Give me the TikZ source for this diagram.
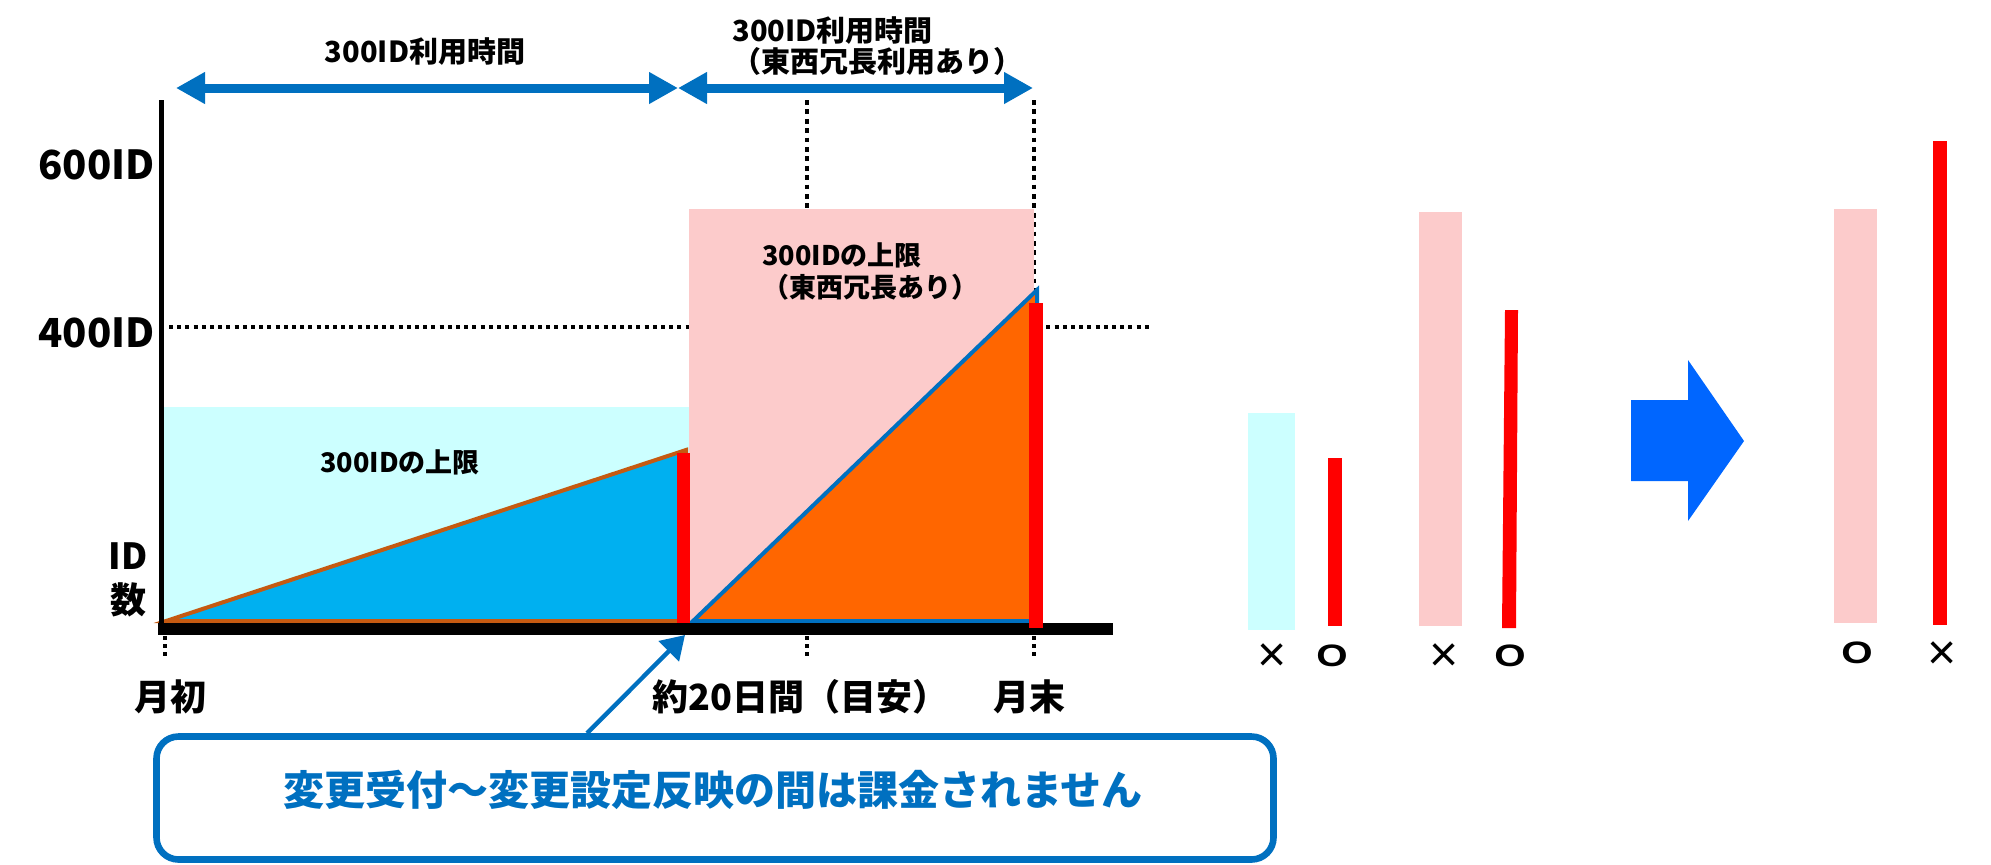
\documentclass[tikz,border=0pt]{standalone}
\usepackage{fontspec}
\setmainfont{Noto Sans CJK JP}
\newfontfamily\latfont{Liberation Sans}
\usetikzlibrary{arrows.meta}
\definecolor{cyanc}{HTML}{CCFFFF}
\definecolor{pinkc}{HTML}{FCCBCB}
\definecolor{tribl}{HTML}{00B0F0}
\definecolor{brownc}{HTML}{C55A11}
\definecolor{orng}{HTML}{FF6600}
\definecolor{arrblue}{HTML}{0070C0}
\definecolor{bigblue}{HTML}{0066FF}
\definecolor{redc}{HTML}{FF0000}
\begin{document}
\begin{tikzpicture}[x=0.5pt,y=-0.5pt,
  lbl/.style={font=\bfseries\fontsize{18}{21}\selectfont, inner sep=0pt},
  axlbl/.style={font=\bfseries\fontsize{20}{24}\selectfont, inner sep=0pt},
  toplbl/.style={font=\bfseries\fontsize{14.5}{15.5}\selectfont, inner sep=0pt, align=left},
  boxlbl/.style={font=\bfseries\fontsize{13.5}{16}\selectfont, inner sep=0pt, align=left},
  okmark/.style={font=\latfont\bfseries\fontsize{15.5}{18}\selectfont, inner sep=0pt},
  ngmark/.style={font=\latfont\fontsize{25}{28}\selectfont, inner sep=0pt},
  hdot/.style={line width=2.2pt, dash pattern=on 2pt off 2.1pt},
  vdot/.style={line width=2.4pt, dash pattern=on 2.4pt off 2.3pt},
  tickdot/.style={line width=1.8pt, dash pattern=on 2pt off 2pt},
  toparrow/.style={draw=arrblue, line width=4.5pt, {Triangle[length=14.5pt,width=15pt]}-{Triangle[length=14.5pt,width=15pt]}},
  callarrow/.style={draw=arrblue, line width=2.2pt, -{Triangle[length=11.5pt,width=14pt]}},
  callbox/.style={draw=arrblue, line width=3.3pt, rounded corners=11pt, minimum width=558.5pt, minimum height=61.5pt, inner sep=0pt},
  calltext/.style={font=\bfseries\fontsize{20.5}{24}\selectfont, text=arrblue, inner sep=0pt}
]
\useasboundingbox (0,0) rectangle (1991,864);

% dotted / dashed guides (behind)
\draw[hdot] (169,327) -- (1150,327);
\draw[vdot] (807,100) -- (807,624);
\draw[vdot] (1034,100) -- (1034,624);
\draw[tickdot] (165,636) -- (165,657);
\draw[tickdot] (807,636) -- (807,657);
\draw[tickdot] (1034,636) -- (1034,657);

% background regions
\fill[pinkc] (689,209) rectangle (1034,623);
\fill[cyanc] (164,407) rectangle (689,623);

% triangles
\filldraw[fill=tribl, draw=brownc, line width=2pt, line join=miter] (166,621) -- (686,450) -- (686,621) -- cycle;
\filldraw[fill=orng, draw=arrblue, line width=2pt, line join=miter] (693,621) -- (1037,290) -- (1037,621) -- cycle;

% axes
\draw[line width=2.5pt] (161.5,100) -- (161.5,628);
\draw[line width=6pt] (158,629) -- (1113,629);

% red bars
\fill[redc] (677,453) rectangle (690,623);
\fill[redc] (1029,303) rectangle (1043,628);

% top span arrows
\coordinate (t0) at (176,88);
\coordinate (t1) at (678,88);
\coordinate (t2) at (1033,88);
\draw[toparrow] (t0) -- (t1);
\draw[toparrow] (t1) -- (t2);

% labels
\node[toplbl] (span1) at (425,52) {300ID利用時間};
\node[toplbl, anchor=west] (span2) at (732,46) {300ID利用時間\\（東西冗長利用あり）};
\node[axlbl, anchor=east] (y600) at (155,165) {600ID};
\node[axlbl, anchor=east] (y400) at (155,333) {400ID};
\node[lbl, align=center, font=\bfseries\fontsize{18}{22}\selectfont] (idnum) at (128,580) {ID\\数};
\node[boxlbl, anchor=west] (lim2) at (762,271) {300IDの上限\\（東西冗長あり）};
\node[boxlbl] (lim1) at (400,462) {300IDの上限};
\node[lbl] (start) at (170,697) {月初};
\node[lbl, anchor=west] (mid) at (652,697) {約20日間（目安）};
\node[lbl] (end) at (1029,697) {月末};

% callout
\node[callbox] (box) at (715,798) {};
\node[calltext] (ctext) at (713,790) {変更受付～変更設定反映の間は課金されません};
\coordinate (tip) at (685,635);
\coordinate (cs) at (587,736);
\draw[callarrow] (box.north -| cs) -- (tip);

% right comparison
\fill[cyanc] (1248,413) rectangle (1295,630);
\fill[redc] (1328,458) rectangle (1342,626);
\fill[pinkc] (1419,212) rectangle (1462,626);
\fill[redc] (1505,310) -- (1518,310) -- (1516,628) -- (1502,628) -- cycle;
\fill[bigblue] (1631,400) -- (1688,400) -- (1688,360) -- (1744,441) -- (1688,521) -- (1688,481) -- (1631,481) -- cycle;
\fill[pinkc] (1834,209) rectangle (1877,623);
\fill[redc] (1933,141) rectangle (1947,625);

\node[ngmark] (m1) at (1272,658) {×};
\node[okmark] (m2) at (1332,656) {\scalebox{1.3}[1]{O}};
\node[ngmark] (m3) at (1444,658) {×};
\node[okmark] (m4) at (1510,656) {\scalebox{1.3}[1]{O}};
\node[okmark] (m5) at (1857,653) {\scalebox{1.3}[1]{O}};
\node[ngmark] (m6) at (1942,656) {×};
\end{tikzpicture}
\end{document}
